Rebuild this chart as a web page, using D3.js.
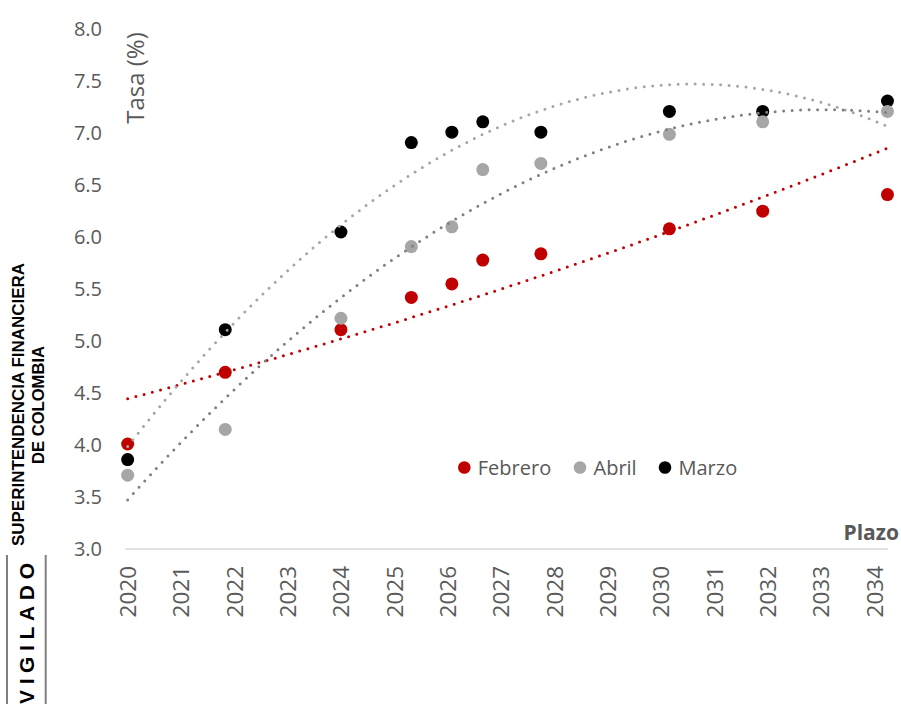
<!DOCTYPE html>
<html>
<head>
<meta charset="utf-8">
<script src="https://cdn.jsdelivr.net/npm/d3@7"></script>
<style>
  body { margin: 0; background: #fff; }
  svg { display: block; font-family: "Open Sans", sans-serif; }
</style>
</head>
<body>
<div id="chart"></div>
<script>
// plazo (año de vencimiento) y tasas por mes
const plazo = [2020.0, 2021.83, 2024.0, 2025.32, 2026.08, 2026.66, 2027.75, 2030.16, 2031.91, 2034.25];
const febrero = [4.01, 4.70, 5.11, 5.42, 5.55, 5.78, 5.84, 6.08, 6.25, 6.41];
const abril = [3.71, 4.15, 5.22, 5.91, 6.10, 6.65, 6.71, 6.99, 7.11, 7.21];
const marzo = [3.86, 5.11, 6.05, 6.91, 7.01, 7.11, 7.01, 7.21, 7.21, 7.31];

const anios = [2020, 2021, 2022, 2023, 2024, 2025, 2026, 2027, 2028, 2029, 2030, 2031, 2032, 2033, 2034];
const yTicks = [3.0, 3.5, 4.0, 4.5, 5.0, 5.5, 6.0, 6.5, 7.0, 7.5, 8.0];

const series = [
  { name: "Febrero", values: febrero, color: "#C00000", trend: "#C00000", fit: "exp" },
  { name: "Marzo", values: marzo, color: "#000000", trend: "#A6A6A6", fit: "poly" },
  { name: "Abril", values: abril, color: "#A6A6A6", trend: "#808080", fit: "poly" }
];
const legendOrder = ["Febrero", "Abril", "Marzo"];

const width = 901, height = 704;
const textColor = "#595959";

const svg = d3.select("#chart").append("svg")
  .attr("width", width)
  .attr("height", height);

const x = d3.scaleLinear().domain([2019.95, 2034.26]).range([125, 888]);
const y = d3.scaleLinear().domain([3, 8]).range([549, 29.3]);

// ajuste de tendencia (mínimos cuadrados)
function solve(A, b) {
  const n = b.length;
  const M = A.map((row, i) => row.concat([b[i]]));
  for (let i = 0; i < n; i++) {
    let p = i;
    for (let k = i + 1; k < n; k++) if (Math.abs(M[k][i]) > Math.abs(M[p][i])) p = k;
    [M[i], M[p]] = [M[p], M[i]];
    for (let k = i + 1; k < n; k++) {
      const f = M[k][i] / M[i][i];
      for (let j = i; j <= n; j++) M[k][j] -= f * M[i][j];
    }
  }
  const r = new Array(n).fill(0);
  for (let i = n - 1; i >= 0; i--) {
    let s = M[i][n];
    for (let j = i + 1; j < n; j++) s -= M[i][j] * r[j];
    r[i] = s / M[i][i];
  }
  return r;
}

function polyFit(xs, ys, order) {
  const n = order + 1;
  const A = [], b = [];
  for (let i = 0; i < n; i++) {
    A.push([]);
    for (let j = 0; j < n; j++) A[i].push(d3.sum(xs, (v) => Math.pow(v, i + j)));
    b.push(d3.sum(xs, (v, k) => ys[k] * Math.pow(v, i)));
  }
  const c = solve(A, b);
  return (t) => c.reduce((s, ci, i) => s + ci * Math.pow(t, i), 0);
}

function expFit(xs, ys) {
  const f = polyFit(xs, ys.map(Math.log), 1);
  return (t) => Math.exp(f(t));
}

const t0 = 2020;
const ts = plazo.map((d) => d - t0);
const muestras = d3.range(0, 201).map((i) => ts[0] + (ts[ts.length - 1] - ts[0]) * i / 200);

// eje x
svg.append("line")
  .attr("x1", 125).attr("x2", 888)
  .attr("y1", y(3)).attr("y2", y(3))
  .attr("stroke", "#D9D9D9")
  .attr("stroke-width", 1.5);

const xAxis = svg.append("g")
  .attr("transform", `translate(0,${y(3)})`)
  .call(d3.axisBottom(x).tickValues(anios).tickFormat(d3.format("d")).tickSize(0));
xAxis.select(".domain").remove();
xAxis.selectAll("text")
  .attr("transform", "rotate(-90)")
  .attr("x", -17)
  .attr("y", 0)
  .attr("dy", "0.35em")
  .style("text-anchor", "end")
  .style("font-size", "22.5px")
  .style("font-family", "Open Sans")
  .attr("fill", textColor);

// eje y
const yAxis = svg.append("g")
  .attr("transform", "translate(125,0)")
  .call(d3.axisLeft(y).tickValues(yTicks).tickFormat(d3.format(".1f")).tickSize(0).tickPadding(23));
yAxis.select(".domain").remove();
yAxis.selectAll("text")
  .style("font-size", "20px")
  .style("font-family", "Open Sans")
  .attr("fill", textColor);

// puntos
series.forEach((s) => {
  svg.append("g")
    .selectAll("circle")
    .data(s.values)
    .enter()
    .append("circle")
    .attr("cx", (d, i) => x(plazo[i]))
    .attr("cy", (d) => y(d))
    .attr("r", 6.5)
    .attr("fill", s.color);
});

// líneas de tendencia
series.forEach((s) => {
  const f = s.fit === "exp" ? expFit(ts, s.values) : polyFit(ts, s.values, 2);
  const line = d3.line()
    .x((t) => x(t + t0))
    .y((t) => y(f(t)));
  svg.append("path")
    .datum(muestras)
    .attr("d", line)
    .attr("fill", "none")
    .attr("stroke", s.trend)
    .attr("stroke-width", 3)
    .attr("stroke-linecap", "round")
    .attr("stroke-dasharray", "0,8.5");
});

// leyenda
const legendPos = [464.3, 580, 665];
const legend = svg.append("g");
legendOrder.forEach((name, i) => {
  const s = series.find((d) => d.name === name);
  legend.append("circle")
    .attr("cx", legendPos[i])
    .attr("cy", 467.5)
    .attr("r", 6.3)
    .attr("fill", s.color);
  legend.append("text")
    .attr("x", legendPos[i] + 13.5)
    .attr("y", 467.5)
    .attr("dy", "0.35em")
    .style("font-size", "20px")
    .attr("fill", textColor)
    .text(name);
});

// títulos de ejes
svg.append("text")
  .attr("transform", "translate(144,78) rotate(-90)")
  .attr("text-anchor", "middle")
  .style("font-size", "24px")
  .attr("fill", textColor)
  .text("Tasa (%)");

svg.append("text")
  .attr("x", 899)
  .attr("y", 540)
  .attr("text-anchor", "end")
  .style("font-size", "21px")
  .style("font-weight", "bold")
  .attr("fill", textColor)
  .text("Plazo");

// sello lateral
const sello = svg.append("g").style("font-family", "'Liberation Sans', Arial, sans-serif").style("font-weight", "bold");
sello.append("text")
  .attr("transform", "translate(24,404.5) rotate(-90)")
  .attr("text-anchor", "middle")
  .attr("textLength", 283)
  .attr("lengthAdjust", "spacingAndGlyphs")
  .style("font-size", "16px")
  .attr("fill", "#000")
  .text("SUPERINTENDENCIA FINANCIERA");
sello.append("text")
  .attr("transform", "translate(43.5,405) rotate(-90)")
  .attr("text-anchor", "middle")
  .attr("textLength", 118)
  .attr("lengthAdjust", "spacingAndGlyphs")
  .style("font-size", "16px")
  .attr("fill", "#000")
  .text("DE COLOMBIA");
sello.append("text")
  .attr("transform", "translate(33.5,704) rotate(-90)")
  .attr("text-anchor", "start")
  .attr("textLength", 141)
  .attr("lengthAdjust", "spacing")
  .style("font-size", "21px")
  .attr("fill", "#000")
  .text("VIGILADO");
[7, 45.7].forEach((lx) => {
  sello.append("line")
    .attr("x1", lx).attr("x2", lx)
    .attr("y1", 555).attr("y2", 704)
    .attr("stroke", "#808080")
    .attr("stroke-width", 2);
});
</script>
</body>
</html>
